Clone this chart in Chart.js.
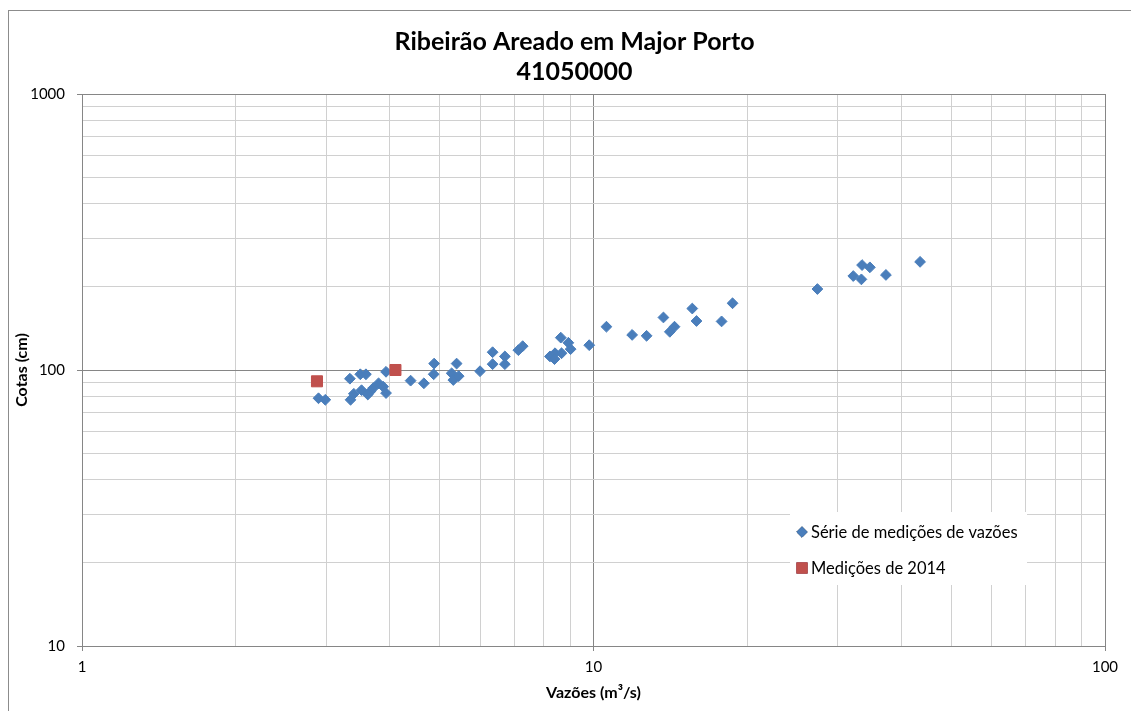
<!DOCTYPE html>
<html lang="pt-BR">
<head>
<meta charset="utf-8">
<title>Ribeirão Areado em Major Porto</title>
<script src="https://cdn.jsdelivr.net/npm/chart.js@4.4.1/dist/chart.umd.min.js"></script>
<style>
    html, body { margin: 0; padding: 0; background: #fff; overflow: hidden; }
    #moldura { position: absolute; left: 8px; top: 10px; width: 1130px; height: 710px; border: 1px solid #8c8c8c; }
    #wrap { position: absolute; left: 0; top: 0; width: 1131px; height: 711px; }
</style>
</head>
<body>
<div id="moldura"></div>
<div id="wrap"><canvas id="curvaChave"></canvas></div>
<script>
// série histórica de medições (vazão m³/s, cota cm)
var serieVazoes = [2.90, 2.99, 3.34, 3.35, 3.40, 3.50, 3.59, 3.52, 3.66, 3.62, 3.71, 3.80, 3.88, 3.93, 3.93,
    4.39, 4.66, 4.88, 4.87, 5.28, 5.32, 5.40, 5.45, 6.0, 6.35, 6.35, 6.71, 6.71, 7.13, 7.27,
    8.22, 8.41, 8.39, 8.63, 8.66, 8.93, 9.02, 9.81, 10.6, 11.9, 12.7, 13.7, 14.1, 14.4, 15.6, 15.9,
    17.8, 18.7, 27.4, 32.2, 33.4, 33.5, 34.7, 37.3, 43.5];
var serieCotas = [79, 78, 93, 78, 82, 96.5, 96.5, 84.5, 83.5, 81.5, 86, 89.5, 87, 82.5, 98.5,
    91.5, 89.5, 105.5, 96.5, 97.3, 92, 105.5, 95, 99, 116, 105, 112, 105, 118, 122,
    112, 115, 109.5, 131, 115, 125.5, 119, 123, 143.5, 134, 133, 155, 137.5, 143.5, 167, 150.5,
    150, 174.5, 196.5, 219, 213, 240, 235.5, 221, 246.5];

// medições de 2014
var medicoes2014Vazoes = [2.88, 4.1];
var medicoes2014Cotas = [91, 100];

var tituloLinhas = ["Ribeirão Areado em Major Porto", "41050000"];
var rotuloSerie = "Série de medições de vazões";
var rotulo2014 = "Medições de 2014";

var xTicks = [1, 2, 3, 4, 5, 6, 7, 8, 9, 10, 20, 30, 40, 50, 60, 70, 80, 90, 100];
var yTicks = [10, 20, 30, 40, 50, 60, 70, 80, 90, 100, 200, 300, 400, 500, 600, 700, 800, 900, 1000];

var fontFamily = "Lato";
var corSerie = "#4a7ebb";
var cor2014 = "#c0504d";
var corGradeMaior = "#868686";
var corGradeMenor = "#d0d0d0";

function toPoints(xs, ys) {
    return xs.map(function (x, i) {
        return { x: x, y: ys[i] };
    });
}

function isDecade(v) {
    if (!v) return false;
    var l = Math.log10(v);
    return Math.abs(l - Math.round(l)) < 1e-9;
}

function gridColor(ctx) {
    return ctx.tick && isDecade(ctx.tick.value) ? corGradeMaior : corGradeMenor;
}

function tickColor(ctx) {
    return ctx.tick && isDecade(ctx.tick.value) ? corGradeMaior : "rgba(0,0,0,0)";
}

// título centrado como no Excel (um pouco à direita do centro do canvas)
var tituloDeslocado = {
    id: "tituloDeslocado",
    afterLayout: function (chart) {
        if (chart.titleBlock) {
            chart.titleBlock.left += 36;
        }
    },
};

// legenda dentro da área do gráfico, com fundo branco
var legendaInterna = {
    id: "legendaInterna",
    afterDatasetsDraw: function (chart) {
        var ctx = chart.ctx;
        var area = chart.chartArea;
        var left = area.right - 315;
        var top = area.top + 418;
        ctx.save();
        ctx.fillStyle = "#ffffff";
        ctx.fillRect(left, top, 237, 73);
        ctx.font = "16.5px " + fontFamily;
        ctx.textBaseline = "middle";
        ctx.textAlign = "left";
        var itens = [chart.data.datasets[1], chart.data.datasets[0]];
        itens.forEach(function (ds, i) {
            var y = top + 20 + i * 36;
            Chart.helpers.drawPoint(ctx, {
                pointStyle: ds.pointStyle,
                radius: ds.pointStyle === "rect" ? 7.5 : 5.2,
                rotation: 0,
                borderWidth: 1,
            }, left + 12, y);
            ctx.fillStyle = ds.backgroundColor;
            ctx.strokeStyle = ds.borderColor;
            ctx.fill();
            ctx.stroke();
            ctx.fillStyle = "#000000";
            ctx.fillText(ds.label, left + 21, y + 1);
        });
        ctx.restore();
    },
};

var config_scatter = {
    type: "scatter",
    data: {
        datasets: [
            {
                label: rotulo2014,
                data: toPoints(medicoes2014Vazoes, medicoes2014Cotas),
                pointStyle: "rect",
                pointRadius: 7.8,
                borderWidth: 1,
                backgroundColor: cor2014,
                borderColor: cor2014,
                order: 0,
            },
            {
                label: rotuloSerie,
                data: toPoints(serieVazoes, serieCotas),
                pointStyle: "rectRot",
                pointRadius: 5.4,
                borderWidth: 1,
                backgroundColor: corSerie,
                borderColor: corSerie,
                order: 1,
            },
        ],
    },
    options: {
        responsive: true,
        maintainAspectRatio: false,
        animation: false,
        events: [],
        layout: {
            padding: { left: 8, right: 26, top: 0, bottom: 0 },
        },
        scales: {
            x: {
                type: "logarithmic",
                min: 1,
                max: 100,
                afterBuildTicks: function (scale) {
                    scale.ticks = xTicks.map(function (v) {
                        return { value: v };
                    });
                },
                afterFit: function (scale) {
                    scale.height = 65;
                },
                border: { color: corGradeMaior, width: 1 },
                grid: {
                    color: gridColor,
                    tickColor: tickColor,
                    tickLength: 5,
                },
                ticks: {
                    autoSkip: false,
                    maxRotation: 0,
                    padding: 7,
                    color: "#000000",
                    font: { family: fontFamily, size: 15 },
                    callback: function (value) {
                        return isDecade(value) ? String(value) : "";
                    },
                },
                title: {
                    display: true,
                    text: "Vazões (m³/s)",
                    color: "#000000",
                    padding: { top: 4, bottom: 9 },
                    font: { family: fontFamily, size: 16, weight: "bold" },
                },
            },
            y: {
                type: "logarithmic",
                min: 10,
                max: 1000,
                afterBuildTicks: function (scale) {
                    scale.ticks = yTicks.map(function (v) {
                        return { value: v };
                    });
                },
                afterFit: function (scale) {
                    scale.width = 74;
                },
                border: { color: corGradeMaior, width: 1 },
                grid: {
                    color: gridColor,
                    tickColor: tickColor,
                    tickLength: 5,
                },
                ticks: {
                    autoSkip: false,
                    padding: 12,
                    color: "#000000",
                    font: { family: fontFamily, size: 15 },
                    callback: function (value) {
                        return isDecade(value) ? String(value) : "";
                    },
                },
                title: {
                    display: true,
                    text: "Cotas (cm)",
                    color: "#000000",
                    padding: { top: 4, bottom: 0 },
                    font: { family: fontFamily, size: 16, weight: "bold" },
                },
            },
        },
        plugins: {
            title: {
                display: true,
                text: tituloLinhas,
                color: "#000000",
                padding: { top: 27, bottom: 7 },
                font: { family: fontFamily, size: 25, weight: "bold", lineHeight: "30px" },
            },
            legend: { display: false },
            tooltip: { enabled: false },
        },
    },
    plugins: [tituloDeslocado, legendaInterna],
};

var scatterChart = new Chart("curvaChave", config_scatter);
</script>
</body>
</html>
